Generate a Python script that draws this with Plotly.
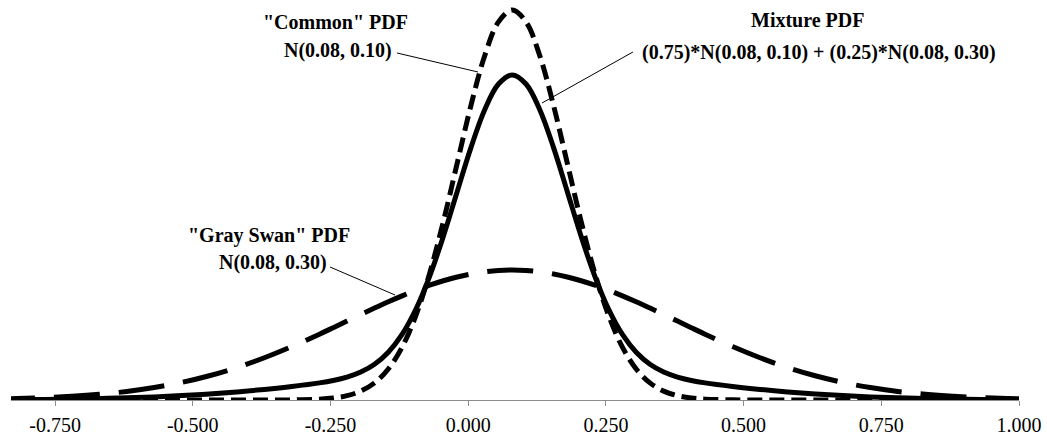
import plotly.graph_objects as go

# x positions (0.08 + 0.05*k, denser near the centre)
x_vals = [-0.87, -0.82, -0.77, -0.72, -0.67, -0.62, -0.57, -0.52, -0.47, -0.42, -0.37, -0.32, -0.27,
          -0.245, -0.22, -0.195, -0.17, -0.145, -0.12, -0.095, -0.07, -0.045, -0.02, 0.005, 0.03, 0.055,
          0.08,
          0.105, 0.13, 0.155, 0.18, 0.205, 0.23, 0.255, 0.28, 0.305, 0.33, 0.355, 0.38, 0.405,
          0.43, 0.48, 0.53, 0.58, 0.63, 0.68, 0.73, 0.78, 0.83, 0.88, 0.93, 0.98, 1.03]

# "Common" PDF N(0.08, 0.10)
common_pdf = [0, 0, 0, 0, 0, 0, 0, 0, 0, 0, 0.00016, 0.00134, 0.00873,
              0.0203, 0.0443, 0.0909, 0.1753, 0.3173, 0.540, 0.8627, 1.295, 1.826, 2.420, 3.011, 3.520, 3.866,
              3.989,
              3.866, 3.520, 3.011, 2.420, 1.826, 1.295, 0.8627, 0.540, 0.3173, 0.1753, 0.0909, 0.0443, 0.0203,
              0.00873, 0.00134, 0.00016, 0, 0, 0, 0, 0, 0, 0, 0, 0, 0]

# "Gray Swan" PDF N(0.08, 0.30)
gray_swan_pdf = [0.00884, 0.0148, 0.0240, 0.0380, 0.0584, 0.0874, 0.1272, 0.1800, 0.2476, 0.3316, 0.4318,
                 0.5467, 0.6733,
                 0.7395, 0.8066, 0.8736, 0.9397, 1.0038, 1.0648, 1.1218, 1.1735, 1.2192, 1.2580, 1.2889,
                 1.3114, 1.3252,
                 1.330,
                 1.3252, 1.3114, 1.2889, 1.2580, 1.2192, 1.1735, 1.1218, 1.0648, 1.0038, 0.9397, 0.8736,
                 0.8066, 0.7395,
                 0.6733, 0.5467, 0.4318, 0.3316, 0.2476, 0.1800, 0.1272, 0.0874, 0.0584, 0.0380, 0.0240,
                 0.0148, 0.00884]

# Mixture PDF (0.75)*N(0.08, 0.10) + (0.25)*N(0.08, 0.30)
mixture_pdf = [0.0022, 0.0037, 0.0060, 0.0095, 0.0146, 0.0219, 0.0318, 0.0450, 0.0619, 0.0829, 0.108,
               0.138, 0.175,
               0.2001, 0.235, 0.2866, 0.366, 0.4890, 0.671, 0.9275, 1.265, 1.6743, 2.130, 2.5805, 2.968, 3.2308,
               3.324,
               3.2308, 2.968, 2.5805, 2.130, 1.6743, 1.265, 0.9275, 0.671, 0.4890, 0.366, 0.2866, 0.235, 0.2001,
               0.175, 0.138, 0.108, 0.0829, 0.0619, 0.0450, 0.0318, 0.0219, 0.0146, 0.0095, 0.0060,
               0.0037, 0.0022]

tick_vals = [-0.75, -0.5, -0.25, 0.0, 0.25, 0.5, 0.75, 1.0]
tick_text = ["-0.750", "-0.500", "-0.250", "0.000", "0.250", "0.500", "0.750", "1.000"]

fig = go.Figure()
fig.add_trace(go.Scatter(x=x_vals, y=gray_swan_pdf, mode="lines", line_shape="spline",
                         line=dict(color="black", width=5, dash="46px,19px"), name="Gray Swan"))
fig.add_trace(go.Scatter(x=x_vals, y=mixture_pdf, mode="lines", line_shape="spline",
                         line=dict(color="black", width=5), name="Mixture"))
fig.add_trace(go.Scatter(x=x_vals, y=common_pdf, mode="lines", line_shape="spline",
                         line=dict(color="black", width=5, dash="15px,7px"), name="Common"))

lab_font = dict(family="Liberation Serif", size=20, color="black")

def ann(text, x, y):
    fig.add_annotation(text="<b>" + text + "</b>", x=x, y=y, xref="paper", yref="paper",
                       showarrow=False, font=lab_font, xanchor="center", yanchor="middle")

ann('"Common" PDF', 0.3224, 0.945)
ann("N(0.08, 0.10)", 0.3244, 0.875)
ann("Mixture PDF", 0.7907, 0.95)
ann("(0.75)*N(0.08, 0.10) + (0.25)*N(0.08, 0.30)", 0.8016, 0.87)
ann('"Gray Swan" PDF', 0.256, 0.4125)
ann("N(0.08, 0.30)", 0.260, 0.345)

for (x0, y0, x1, y1) in [(0.383, 0.8675, 0.4633, 0.82),
                         (0.617, 0.87, 0.5268, 0.7425),
                         (0.3165, 0.3325, 0.381, 0.2625)]:
    fig.add_shape(type="line", xref="paper", yref="paper", x0=x0, y0=y0, x1=x1, y1=y1,
                  line=dict(color="black", width=1))

fig.update_layout(
    width=1047, height=439,
    margin=dict(l=11, r=28, t=0, b=39),
    paper_bgcolor="white", plot_bgcolor="white",
    showlegend=False,
    xaxis=dict(range=[-0.83, 1.0], tickvals=tick_vals, ticktext=tick_text,
               showline=True, linecolor="#8c8c8c", linewidth=1,
               ticks="outside", ticklen=5, tickcolor="#8c8c8c",
               ticklabelstandoff=2,
               showgrid=False, zeroline=False,
               tickfont=dict(family="Liberation Serif", size=20, color="black")),
    yaxis=dict(range=[0, 4.09], showticklabels=False, showline=False, showgrid=False,
               zeroline=False, ticks=""),
)

fig.write_html("out.html", config={"displayModeBar": False},
               post_script="document.body.style.margin='0px';document.body.style.overflow='hidden';")
